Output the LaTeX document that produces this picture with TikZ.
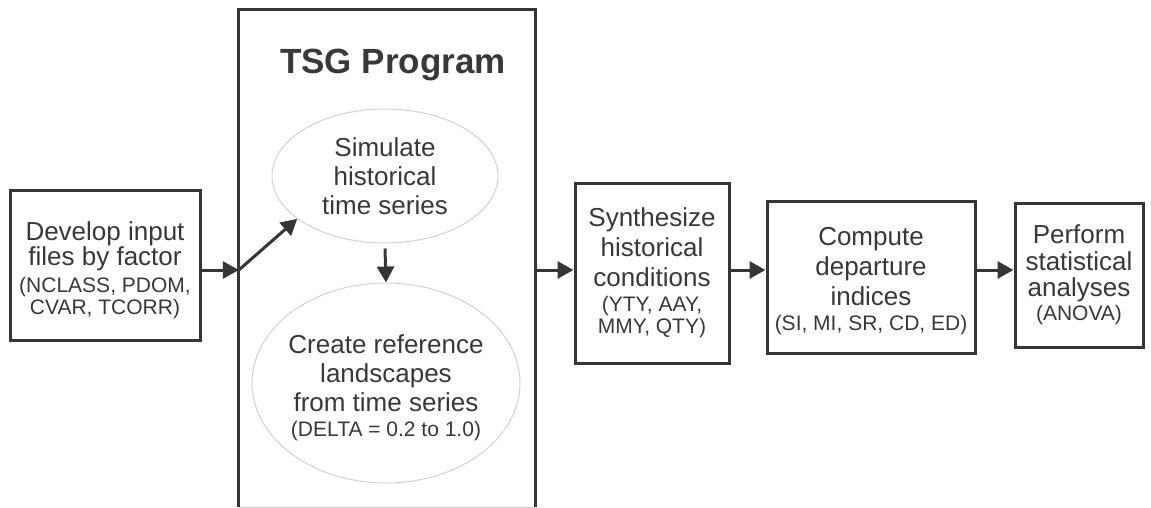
\documentclass[tikz,border=0pt]{standalone}
\usepackage{fontspec}
\setmainfont{Liberation Sans}
\usetikzlibrary{arrows.meta,shapes.geometric}
\definecolor{linec}{HTML}{363636}
\definecolor{txtc}{HTML}{383838}
\definecolor{ellc}{HTML}{D2D2D2}
\newcommand{\sm}{\fontsize{21}{22}\selectfont}
\tikzset{
  stepbox/.style={draw=linec, line width=3pt, rectangle, inner sep=0pt},
  ellbox/.style={draw=ellc, line width=1pt, ellipse, inner sep=0pt},
  txt/.style={text=txtc, align=center, inner sep=0pt, font=\fontsize{26}{30}\selectfont},
  arr/.style={draw=linec, line width=3pt, -{Triangle[length=16pt,width=17pt]}},
}
\begin{document}
\begin{tikzpicture}[x=1pt,y=-1pt]
\useasboundingbox (0,0) rectangle (1151,508);
\clip (0,0) rectangle (1151,508);
% input box
\node[stepbox, minimum width=190, minimum height=150] (box1) at (105,265) {};
\node[txt] (box1t) at ([yshift=-5pt]box1.center)
  {Develop input\\[-5pt]files by factor\\[-3pt]{\sm (NCLASS, PDOM,}\\[-8pt]{\sm CVAR, TCORR)}};
% TSG program frame
\node[draw=none, minimum width=296, minimum height=497, inner sep=0pt] (tsg) at (387,258.5) {};
\draw[linec, line width=3pt] (tsg.south west) -- (tsg.north west) -- (tsg.north east) -- (tsg.south east);
\draw[ellc, line width=1pt] (tsg.south west) -- (tsg.south east);
\node[text=txtc, font=\fontsize{35}{40}\selectfont\bfseries] (title) at (393,65) {TSG Program};
\node[ellbox, minimum width=226, minimum height=134] (e1) at (385,176) {};
\node[txt] (e1t) at (e1.center)
  {Simulate\\[-1pt]historical\\[-1pt]time series};
\node[ellbox, minimum width=268, minimum height=200] (e2) at (386,383) {};
\node[txt] (e2t) at ([yshift=-5pt]e2.center)
  {Create reference\\[-1pt]landscapes\\[-1pt]from time series\\[-5pt]{\sm (DELTA = 0.2 to 1.0)}};
% right boxes
\node[stepbox, minimum width=154, minimum height=180] (synth) at (652,273) {};
\node[txt] (synt) at (synth.center)
  {Synthesize\\historical\\conditions\\[-5pt]{\sm (YTY, AAY,}\\[-8pt]{\sm MMY, QTY)}};
\node[stepbox, minimum width=208, minimum height=152] (comp) at (871,277) {};
\node[txt] (compt) at ([yshift=-4pt]comp.center)
  {Compute\\departure\\indices\\[-5pt]{\sm (SI, MI, SR, CD, ED)}};
\node[stepbox, minimum width=128, minimum height=144] (perf) at (1079,275) {};
\node[txt] (perft) at (perf.center)
  {Perform\\[-3.5pt]statistical\\[-3.5pt]analyses\\[-6pt]{\sm (ANOVA)}};
% connectors
\coordinate (ay) at (0,270);
\coordinate (j) at (tsg.west |- ay);
\draw[arr] (box1.east |- ay) -- (j);
\draw[arr] (j) -- (e1.206);
\draw[arr] ([yshift=-5pt]e1.south) -- (e2.north);
\draw[arr] (tsg.east |- ay) -- (synth.west |- ay);
\draw[arr] (synth.east |- ay) -- (comp.west |- ay);
\draw[arr] (comp.east |- ay) -- (perf.west |- ay);
\end{tikzpicture}
\end{document}
